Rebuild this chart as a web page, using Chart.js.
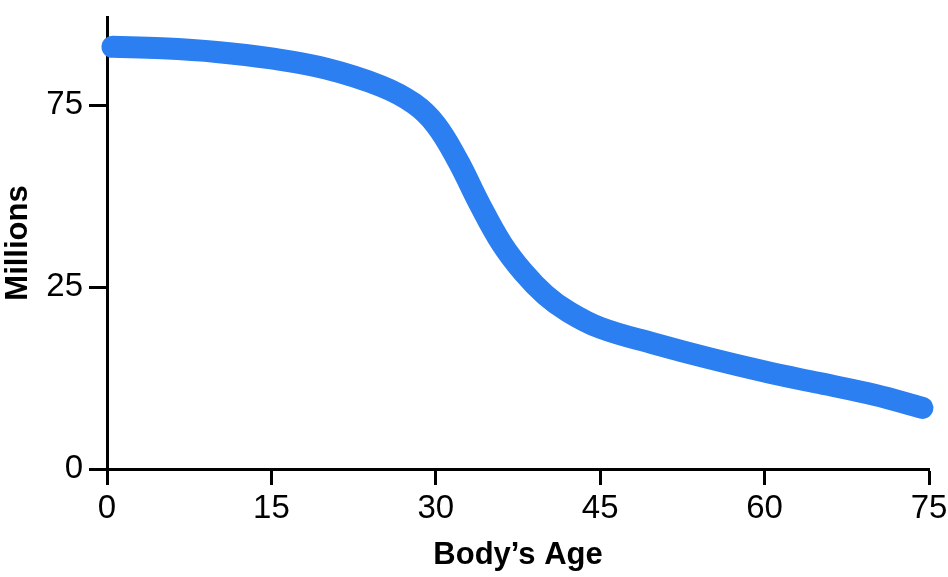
<!DOCTYPE html>
<html>
<head>
<meta charset="utf-8">
<script src="https://cdn.jsdelivr.net/npm/chart.js@4"></script>
<style>
  html, body { margin: 0; padding: 0; background: #fff; }
  #wrap { width: 948px; height: 577px; }
</style>
</head>
<body>
<div id="wrap"><canvas id="c" width="948" height="577"></canvas></div>
<script>
// Body's age (x) and plotted value (y, in axis position units)
const ages   = [0.5, 5, 10, 15, 20, 25, 28, 30, 32, 34, 36, 38, 40, 42, 45, 50, 55, 60, 65, 70, 74.4];
const values = [58.0, 57.8, 57.3, 56.4, 55.0, 52.6, 50.2, 47.3, 42.4, 36.4, 31.0, 27.0, 23.9, 21.7, 19.4, 17.2, 15.2, 13.4, 11.8, 10.2, 8.4];
const xTicks = [0, 15, 30, 45, 60, 75];
const yTickPositions = [0, 25, 50];
const yTickLabels = ["0", "25", "75"];
const xTitle = "Body\u2019s Age";
const yTitle = "Millions";

const FONT = "'Liberation Sans Narrow', 'Arial Narrow', 'Liberation Sans', Arial, sans-serif";

new Chart(document.getElementById('c'), {
  type: 'line',
  data: {
    datasets: [{
      data: ages.map((a, i) => ({ x: a, y: values[i] })),
      borderColor: '#2b7ff0',
      borderWidth: 22,
      borderCapStyle: 'round',
      borderJoinStyle: 'round',
      pointRadius: 0,
      fill: false,
      tension: 0.4,
      clip: false
    }]
  },
  options: {
    responsive: false,
    animation: false,
    devicePixelRatio: 1,
    layout: { padding: { top: 17, right: 19, left: 0, bottom: 0 } },
    plugins: { legend: { display: false }, tooltip: { enabled: false } },
    scales: {
      x: {
        type: 'linear',
        min: 0, max: 75,
        afterBuildTicks: s => { s.ticks = xTicks.map(v => ({ value: v })); },
        afterFit: s => { s.height = 108; s.paddingLeft = 0; s.paddingRight = 0; },
        border: { display: true, color: '#000', width: 3 },
        grid: { display: true, drawOnChartArea: false, drawTicks: true, tickLength: 16, tickWidth: 3, tickColor: '#000' },
        ticks: { color: '#000', padding: 4, maxRotation: 0, font: { family: FONT, size: 33 } },
        title: { display: true, text: xTitle, color: '#000', padding: { top: 0, bottom: 3 }, font: { family: FONT, size: 31, weight: 'bold' } }
      },
      y: {
        type: 'linear',
        min: 0, max: 62.1,
        afterBuildTicks: s => { s.ticks = yTickPositions.map(v => ({ value: v })); },
        afterFit: s => { s.width = 107; s.paddingTop = 0; s.paddingBottom = 0; },
        border: { display: true, color: '#000', width: 3 },
        grid: { display: true, drawOnChartArea: false, drawTicks: true, tickLength: 18, tickWidth: 3, tickColor: '#000' },
        ticks: {
          color: '#000', padding: 6, font: { family: FONT, size: 33 },
          callback: v => { const i = yTickPositions.indexOf(v); return i >= 0 ? yTickLabels[i] : ''; }
        },
        title: { display: true, text: yTitle, color: '#000', padding: { top: 0, bottom: 0 }, font: { family: FONT, size: 31, weight: 'bold' } }
      }
    }
  }
});
</script>
</body>
</html>
